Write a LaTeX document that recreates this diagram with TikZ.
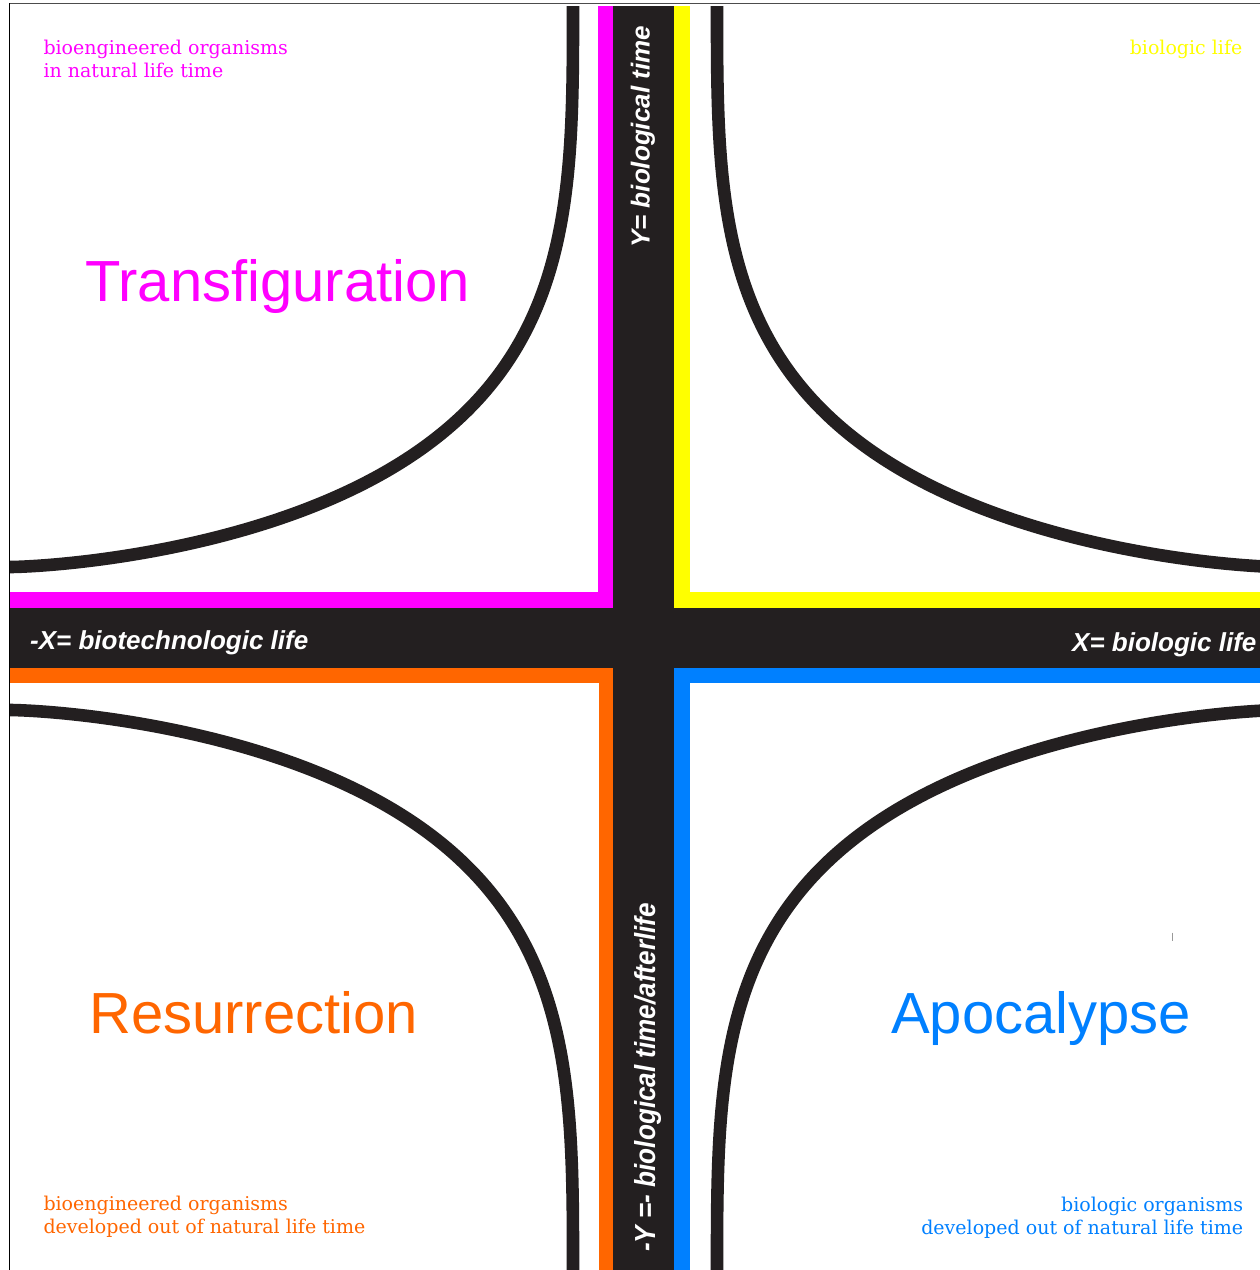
\documentclass[tikz,border=0pt]{standalone}
\usepackage{fontspec}
\usepackage{graphicx}
\newfontfamily\noteserif{DejaVu Serif}
\newfontfamily\labelsans{Liberation Sans}
\definecolor{inkblack}{HTML}{231F20}
\definecolor{qmagenta}{HTML}{FF00FF}
\definecolor{qyellow}{HTML}{FFFF00}
\definecolor{qorange}{HTML}{FF6600}
\definecolor{qblue}{HTML}{0080FF}
\tikzset{
  band/.style={fill=inkblack, draw=none},
  hypercurve/.style={draw=inkblack, line width=12.6pt, line join=round},
  curveplot/.style={domain=0:1, samples=240, variable=\w},
  note/.style={inner sep=0pt, font=\noteserif\fontsize{19}{23}\selectfont},
  title/.style={inner sep=0pt, font=\labelsans\fontsize{58}{66}\selectfont},
  axislabel/.style={inner sep=0pt, text=white, font=\labelsans\bfseries\itshape\fontsize{26}{30}\selectfont},
}
\begin{document}
\begin{tikzpicture}[x=1pt, y=-1pt]
\useasboundingbox (0,0) rectangle (1260,1270);
\fill[white] (0,0) rectangle (1260,1270);

% frame lines
\draw[draw=black!70, line width=1.3pt] (9,3.5) -- (1260,3.5);
\draw[draw=black, line width=1.2pt] (9.5,3) -- (9.5,1270);

% quadrant colour bands
\fill[qmagenta] (597.7,6) rectangle (612.7,607.7);
\fill[qmagenta] (10,592.3) rectangle (612.7,607.7);
\fill[qyellow] (674.3,6) rectangle (689.7,607.7);
\fill[qyellow] (674.3,592.3) rectangle (1260,607.7);
\fill[qorange] (10,668.3) rectangle (612.7,682.7);
\fill[qorange] (598.5,668.3) rectangle (612.7,1270);
\fill[qblue] (674.3,668.3) rectangle (1260,682.7);
\fill[qblue] (674.3,668.3) rectangle (689.7,1270);

% central axes
\fill[band] (612.7,6) rectangle (674.3,1270);
\fill[band] (10,607.7) rectangle (1260,668.3);

% curves: quarter superellipses (u/563)^(1/3) + (v/560)^(2/3) = 1,
% parametrised so that only integer powers are needed
\draw[hypercurve] plot[curveplot]
  ({573-563*(1-\w*\w)^3}, {567-560*\w^3}) -- (573,6);
\draw[hypercurve] (1280,567) -- plot[curveplot]
  ({717+563*(1-\w*\w)^3}, {567-560*\w^3}) -- (717,6);
\draw[hypercurve] plot[curveplot]
  ({573-563*(1-\w*\w)^3}, {710+560*\w^3}) -- (573,1271);
\draw[hypercurve] (1280,710) -- plot[curveplot]
  ({717+563*(1-\w*\w)^3}, {710+560*\w^3}) -- (717,1271);

% axis labels
\node[axislabel, anchor=base west] (xneg) at (30,649.3) {-X= biotechnologic life};
\node[axislabel, anchor=base west] (xpos) at (1072,651.5) {X= biologic life};
\node[axislabel, anchor=base west, rotate=90] (ypos) at (649.5,248) {Y= biological time};
\node[axislabel, anchor=base west, rotate=90] (yneg) at (655,1252)
  {\scalebox{0.9}[1]{\fontsize{29}{33}\selectfont -Y =- biological time/afterlife}};

% quadrant titles
\node[title, text=qmagenta, anchor=base west] (transfig) at (85,301.5) {Transfiguration};
\node[title, text=qorange, anchor=base west] (resurr) at (89,1033.3) {Resurrection};
\node[title, text=qblue, anchor=base west] (apoc) at (891,1033.3) {Apocalypse};

% quadrant notes
\node[note, text=qmagenta, anchor=base west] (tl1) at (43.3,54.3) {bioengineered organisms};
\node[note, text=qmagenta, anchor=base west] (tl2) at (43.3,77.7) {in natural life time};
\node[note, text=qyellow, anchor=base east] (tr1) at (1242.5,54.3) {biologic life};
\node[note, text=qorange, anchor=base west] (bl1) at (43.3,1210.7) {bioengineered organisms};
\node[note, text=qorange, anchor=base west] (bl2) at (43.3,1233.5) {developed out of natural life time};
\node[note, text=qblue, anchor=base east] (br1) at (1243.3,1211.7) {biologic organisms};
\node[note, text=qblue, anchor=base east] (br2) at (1243.3,1234.3) {developed out of natural life time};

% small stray tick
\draw[draw=black!40, line width=0.9pt] (1172,932.7) -- (1172,940.7);
\end{tikzpicture}
\end{document}
